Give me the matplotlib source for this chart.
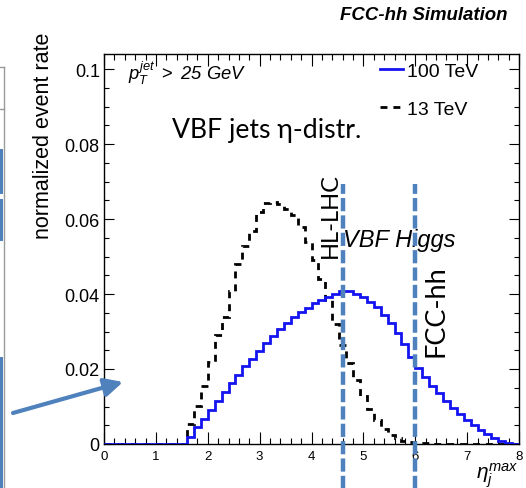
import numpy as np
import matplotlib
matplotlib.use("Agg")
import matplotlib.pyplot as plt
from matplotlib.lines import Line2D
from matplotlib.patches import Rectangle

plt.rcParams['font.family'] = ['Liberation Sans', 'DejaVu Sans']
plt.rcParams['mathtext.fontset'] = 'custom'
plt.rcParams['mathtext.rm'] = 'Liberation Sans'
plt.rcParams['mathtext.it'] = 'Liberation Sans:italic'
plt.rcParams['mathtext.bf'] = 'Liberation Sans:bold'
plt.rcParams['lines.scale_dashes'] = False

# ---------------- data ----------------
eta_min, eta_max, n_bins = 0.0, 8.0, 60
bin_edges = np.linspace(eta_min, eta_max, n_bins + 1)

rate_100tev = [
    0, 0, 0, 0, 0, 0, 0, 0, 0, 0, 0, 0,
    0.0020, 0.0045, 0.0068, 0.0092, 0.0116, 0.0140, 0.0163, 0.0185,
    0.0207, 0.0228, 0.0249, 0.0269, 0.0288, 0.0306, 0.0323, 0.0338,
    0.0352, 0.0364, 0.0375, 0.0385, 0.0393, 0.0399, 0.0409, 0.0407,
    0.0401, 0.0392, 0.0380, 0.0365, 0.0345, 0.0322, 0.0295, 0.0268,
    0.0232, 0.0202, 0.0178, 0.0156, 0.0135, 0.0115, 0.0097, 0.0080,
    0.0064, 0.0050, 0.0037, 0.0026, 0.0016, 0.0009, 0.0004, 0.0001,
]
rate_13tev = [
    0, 0, 0, 0, 0, 0, 0, 0, 0, 0, 0, 0,
    0.0053, 0.0102, 0.0156, 0.0220, 0.0291, 0.0338, 0.0409, 0.0480,
    0.0529, 0.0569, 0.0618, 0.0644, 0.0646, 0.0640, 0.0627, 0.0610,
    0.0580, 0.0540, 0.0490, 0.0440, 0.0385, 0.0320, 0.0265, 0.0215,
    0.0170, 0.0128, 0.0093, 0.0063, 0.0040, 0.0025, 0.0015, 0.0009,
    0.0005, 0.0003, 0.0002, 0.0001, 0, 0, 0, 0,
    0, 0, 0, 0, 0, 0, 0, 0,
]
series_labels = ["100 TeV", "13 TeV"]

x_ticks = [0, 1, 2, 3, 4, 5, 6, 7, 8]
x_tick_labels = ["0", "1", "2", "3", "4", "5", "6", "7", "8"]
y_ticks = [0, 0.02, 0.04, 0.06, 0.08, 0.1]
y_tick_labels = ["0", "0.02", "0.04", "0.06", "0.08", "0.1"]

coverage_eta = [4.6, 6.0]
coverage_labels = ["HL-LHC", "FCC-hh"]

# ---------------- figure ----------------
W, H = 526, 489
fig = plt.figure(figsize=(W / 100, H / 100), dpi=100)
ax_l, ax_r, ax_t, ax_b = 104, 519, 55, 445
ax = fig.add_axes([ax_l / W, 1 - ax_b / H, (ax_r - ax_l) / W, (ax_b - ax_t) / H])

ymax = 0.104
ax.set_xlim(eta_min, eta_max)
ax.set_ylim(0, ymax)

blue = "#1414f0"
dash13 = (0, (5.0, 4.3))
ax.stairs(rate_100tev, bin_edges, color=blue, lw=2.0, zorder=3)
ax.stairs(rate_13tev, bin_edges, color="black", lw=2.0,
          linestyle=dash13, zorder=2)

# coverage lines
steel = "#4f81bd"
for xv in coverage_eta:
    ax.plot([xv, xv], [-0.013, 0.0693], color=steel, lw=3.2,
            linestyle=(0, (9.5, 3.0)), clip_on=False, zorder=5)

# ticks
ax.set_xticks(x_ticks)
ax.set_xticklabels(x_tick_labels, fontsize=9.5)
ax.set_yticks(y_ticks)
ax.set_yticklabels(y_tick_labels, fontsize=13)
ax.set_xticks(np.arange(0, 8.01, 0.2), minor=True)
ax.set_yticks(np.arange(0, 0.1041, 0.005), minor=True)
ax.tick_params(which='both', direction='in', top=True, right=True, width=0.8)
ax.tick_params(axis='x', which='major', length=8.5, pad=4)
ax.tick_params(axis='x', which='minor', length=4.5)
ax.tick_params(axis='y', which='major', length=7.2, pad=3)
ax.tick_params(axis='y', which='minor', length=3.6)
for s in ax.spines.values():
    s.set_linewidth(1.0)

# axis labels
ax.set_ylabel("normalized event rate", fontsize=15.5)
ax.yaxis.set_label_coords(-0.12, (ax_b - 136) / (ax_b - ax_t))
ax.set_xlabel(r"$\eta_{j}^{max}$", fontsize=15, loc='right', labelpad=-1)

# legend
handles = [Line2D([], [], color=blue, lw=2.0),
           Line2D([], [], color="black", lw=2.0, linestyle=dash13)]
ax.legend(handles, series_labels, loc='upper left',
          bbox_to_anchor=((380 - ax_l) / (ax_r - ax_l), (ax_b - 63) / (ax_b - ax_t)),
          frameon=False, fontsize=14, handlelength=1.2, handletextpad=0.2,
          borderpad=0, borderaxespad=0, labelspacing=1.05)

# texts
fig.text(508 / W, 1 - 15 / H, "FCC-hh Simulation", ha='right', va='center',
         fontsize=13.4, fontweight='bold', fontstyle='italic')
ax.text((128 - ax_l) / (ax_r - ax_l), (ax_b - 80) / (ax_b - ax_t),
        r"$p_{T}^{jet}$ $>$ 25 $GeV$", transform=ax.transAxes,
        fontsize=13.2, fontstyle='italic', va='baseline', ha='left')
ax.text((172 - ax_l) / (ax_r - ax_l), (ax_b - 138) / (ax_b - ax_t),
        "VBF jets η-distr.", transform=ax.transAxes, family=['Lato', 'DejaVu Sans'],
        fontsize=19.2, va='baseline', ha='left')
ax.text((343 - ax_l) / (ax_r - ax_l), (ax_b - 247) / (ax_b - ax_t),
        "VBF Higgs", transform=ax.transAxes, fontsize=17, fontstyle='italic',
        va='baseline', ha='left')
ax.text((330 - ax_l) / (ax_r - ax_l), (ax_b - 216) / (ax_b - ax_t),
        coverage_labels[0], transform=ax.transAxes, family=['Lato', 'DejaVu Sans'],
        fontsize=17, rotation=90, ha='center', va='center')
ax.text((436 - ax_l) / (ax_r - ax_l), (ax_b - 311) / (ax_b - ax_t),
        coverage_labels[1], transform=ax.transAxes, family=['Lato', 'DejaVu Sans'],
        fontsize=19.5, rotation=90, ha='center', va='center')

# annotation arrow
ax.annotate("", xy=(123, H - 383), xycoords='figure pixels',
            xytext=(13, H - 414), textcoords='figure pixels',
            arrowprops=dict(arrowstyle='-|>,head_length=1.0,head_width=0.5',
                            mutation_scale=11, color=steel, lw=3.0,
                            shrinkA=0, shrinkB=0))

# slide remnants at the left edge
grey = "#9a9a9a"
fig.add_artist(Line2D([3.5 / W, 3.5 / W], [0, 1 - 68 / H], transform=fig.transFigure,
                      color=grey, lw=1.0))
fig.add_artist(Line2D([0, 3.5 / W], [1 - 68 / H, 1 - 68 / H], transform=fig.transFigure,
                      color=grey, lw=1.0))
fig.add_artist(Line2D([0, 3.5 / W], [1 - 110 / H, 1 - 110 / H], transform=fig.transFigure,
                      color=grey, lw=1.0))
for y0, y1 in [(150, 195), (200, 242), (358, 489)]:
    fig.add_artist(Rectangle((0, 1 - y1 / H), 3 / W, (y1 - y0) / H,
                             transform=fig.transFigure, color=steel, lw=0))

fig.savefig("out.png", dpi=100)
